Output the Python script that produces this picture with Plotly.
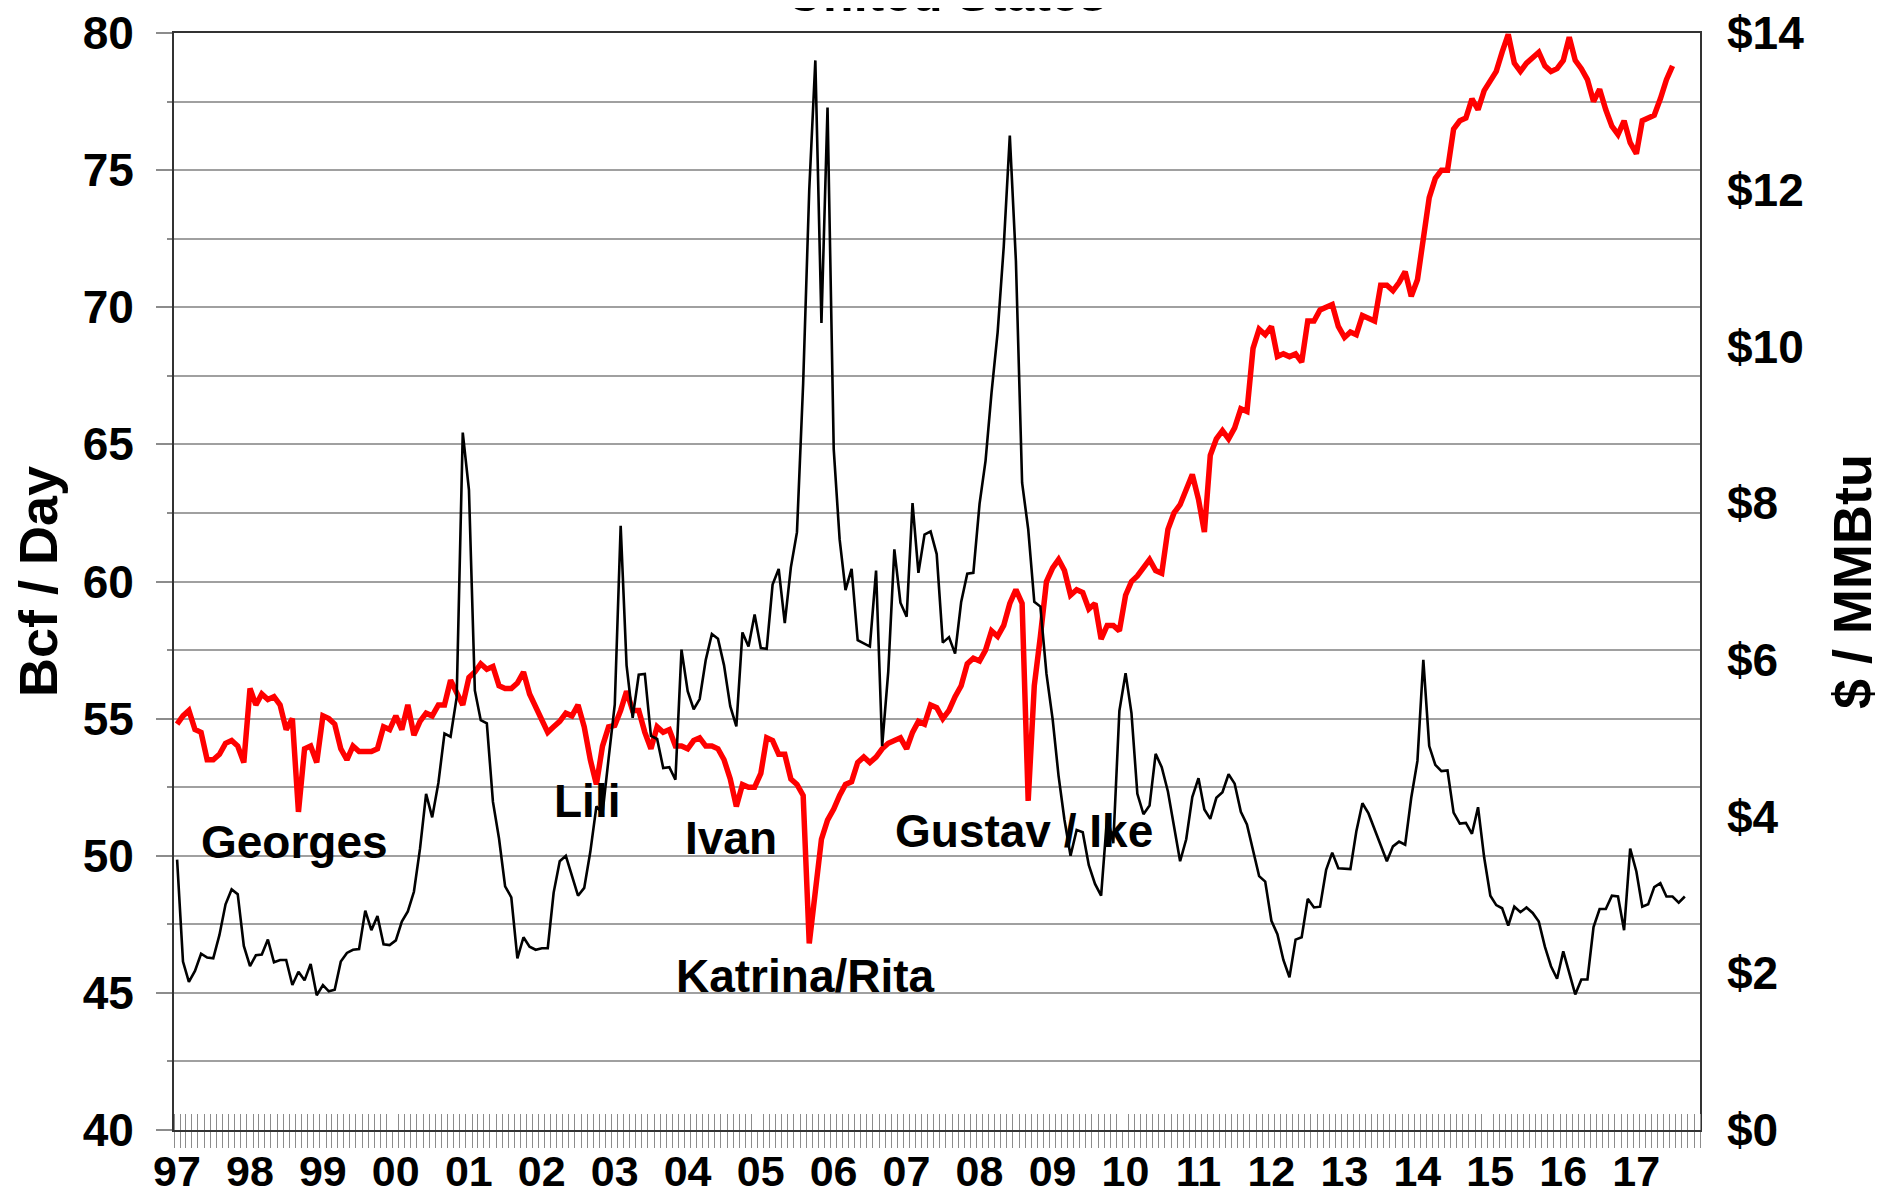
import plotly.graph_objects as go

# ---------------- data ----------------
year_labels = ["97", "98", "99", "00", "01", "02", "03", "04", "05", "06", "07",
               "08", "09", "10", "11", "12", "13", "14", "15", "16", "17"]

# monthly, Jan 1997 .. Jul 2017  (Bcf / Day, left axis)
production = [
    54.8, 55.1, 55.3, 54.6, 54.5, 53.5, 53.5, 53.7, 54.1, 54.2, 54.0, 53.4,   # 1997
    56.1, 55.5, 55.9, 55.7, 55.8, 55.5, 54.6, 55.0, 51.6, 53.9, 54.0, 53.4,   # 1998
    55.1, 55.0, 54.8, 53.9, 53.5, 54.0, 53.8, 53.8, 53.8, 53.9, 54.7, 54.6,   # 1999
    55.1, 54.6, 55.5, 54.4, 54.9, 55.2, 55.1, 55.5, 55.5, 56.4, 56.0, 55.5,   # 2000
    56.5, 56.7, 57.0, 56.8, 56.9, 56.2, 56.1, 56.1, 56.3, 56.7, 55.9, 55.4,   # 2001
    55.0, 54.5, 54.7, 54.9, 55.2, 55.1, 55.5, 54.7, 53.5, 52.6, 54.0, 54.7,   # 2002
    54.75, 55.3, 56.0, 55.3, 55.3, 54.5, 53.9, 54.7, 54.5, 54.6, 54.0, 54.0,  # 2003
    53.9, 54.2, 54.3, 54.0, 54.0, 53.9, 53.5, 52.8, 51.8, 52.6, 52.5, 52.5,   # 2004
    53.0, 54.3, 54.2, 53.7, 53.7, 52.8, 52.6, 52.2, 46.8, 48.8, 50.6, 51.3,   # 2005
    51.7, 52.2, 52.6, 52.7, 53.4, 53.6, 53.4, 53.6, 53.9, 54.1, 54.2, 54.3,   # 2006
    53.9, 54.5, 54.9, 54.8, 55.5, 55.4, 55.0, 55.3, 55.8, 56.2, 57.0, 57.2,   # 2007
    57.1, 57.5, 58.2, 58.0, 58.4, 59.2, 59.7, 59.2, 52.0, 56.2, 58.0, 60.0,   # 2008
    60.5, 60.8, 60.4, 59.5, 59.7, 59.6, 59.0, 59.2, 57.9, 58.4, 58.4, 58.2,   # 2009
    59.5, 60.0, 60.2, 60.5, 60.8, 60.4, 60.3, 61.9, 62.5, 62.8, 63.4, 63.9,   # 2010
    63.0, 61.8, 64.6, 65.2, 65.5, 65.2, 65.6, 66.3, 66.2, 68.5, 69.2, 69.0,   # 2011
    69.3, 68.2, 68.3, 68.2, 68.3, 68.0, 69.5, 69.5, 69.9, 70.0, 70.1, 69.3,   # 2012
    68.9, 69.1, 69.0, 69.7, 69.6, 69.5, 70.8, 70.8, 70.6, 70.9, 71.3, 70.4,   # 2013
    71.0, 72.5, 74.0, 74.7, 75.0, 75.0, 76.5, 76.8, 76.9, 77.6, 77.2, 77.9,   # 2014
    78.3, 78.6, 79.3, 79.95, 78.9, 78.6, 78.9, 79.1, 79.3, 78.8, 78.6, 78.7,  # 2015
    79.0, 79.85, 79.0, 78.7, 78.3, 77.5, 77.95, 77.2, 76.6, 76.3, 76.8, 76.0, # 2016
    75.6, 76.8, 76.9, 77.0, 77.6, 78.3, 78.8,                                 # 2017
]

# monthly, Jan 1997 .. Sep 2017  ($ / MMBtu, right axis)
price = [
    3.45, 2.15, 1.89, 2.03, 2.25, 2.20, 2.19, 2.49, 2.88, 3.07, 3.01, 2.35,   # 1997
    2.09, 2.23, 2.24, 2.43, 2.14, 2.17, 2.17, 1.85, 2.02, 1.91, 2.12, 1.72,   # 1998
    1.85, 1.77, 1.79, 2.15, 2.26, 2.30, 2.31, 2.80, 2.55, 2.73, 2.37, 2.36,   # 1999
    2.42, 2.66, 2.79, 3.04, 3.59, 4.29, 3.99, 4.43, 5.06, 5.02, 5.52, 8.90,   # 2000
    8.17, 5.61, 5.23, 5.19, 4.19, 3.72, 3.11, 2.97, 2.19, 2.46, 2.34, 2.30,   # 2001
    2.32, 2.32, 3.03, 3.43, 3.50, 3.26, 2.99, 3.09, 3.55, 4.13, 4.04, 4.74,   # 2002
    5.43, 7.71, 5.93, 5.26, 5.81, 5.82, 5.03, 4.99, 4.62, 4.63, 4.47, 6.13,   # 2003
    5.60, 5.37, 5.50, 6.00, 6.33, 6.27, 5.93, 5.41, 5.15, 6.35, 6.17, 6.58,   # 2004
    6.15, 6.14, 6.96, 7.16, 6.47, 7.18, 7.63, 9.53, 12.00, 13.65, 10.30, 13.05,  # 2005
    8.69, 7.54, 6.89, 7.16, 6.25, 6.21, 6.17, 7.14, 4.90, 5.85, 7.41, 6.73,   # 2006
    6.55, 8.00, 7.11, 7.60, 7.64, 7.35, 6.22, 6.29, 6.08, 6.74, 7.10, 7.11,   # 2007
    7.99, 8.54, 9.41, 10.18, 11.27, 12.69, 11.09, 8.26, 7.67, 6.74, 6.68, 5.82,  # 2008
    5.24, 4.52, 3.96, 3.50, 3.83, 3.80, 3.38, 3.14, 2.99, 4.01, 3.66, 5.35,   # 2009
    5.83, 5.32, 4.29, 4.03, 4.14, 4.80, 4.63, 4.32, 3.89, 3.43, 3.71, 4.25,   # 2010
    4.49, 4.09, 3.97, 4.24, 4.31, 4.54, 4.42, 4.06, 3.90, 3.57, 3.24, 3.17,   # 2011
    2.67, 2.50, 2.17, 1.95, 2.43, 2.46, 2.95, 2.84, 2.85, 3.32, 3.54, 3.34,   # 2012
    3.33, 3.33, 3.81, 4.17, 4.04, 3.83, 3.62, 3.43, 3.62, 3.68, 3.64, 4.24,   # 2013
    4.71, 6.00, 4.90, 4.66, 4.58, 4.59, 4.05, 3.91, 3.92, 3.78, 4.12, 3.48,   # 2014
    2.99, 2.87, 2.83, 2.61, 2.85, 2.78, 2.84, 2.77, 2.66, 2.34, 2.09, 1.93,   # 2015
    2.28, 1.99, 1.73, 1.92, 1.92, 2.59, 2.82, 2.82, 2.99, 2.98, 2.55, 3.59,   # 2016
    3.30, 2.85, 2.88, 3.10, 3.15, 2.98, 2.98, 2.90, 2.98,                     # 2017
]

# hurricane labels: (text, month, Bcf/Day level)
hurricanes = [
    ("Georges", "1998-08-28", 50.5),
    ("Lili", "2002-08-28", 52.0),
    ("Ivan", "2004-08-18", 50.65),
    ("Katrina/Rita", "2005-08-30", 45.6),
    ("Gustav / Ike", "2008-08-26", 50.9),
]

# month categories (Jan 1997 onward)
months = [f"{1997 + i // 12}-{i % 12 + 1:02d}" for i in range(len(price))]

# ---------------- figure ----------------
FONT = "Liberation Sans, Arial, sans-serif"
GRID = "#a0a0a0"
TICKC = "#8c8c8c"
AXIS = "#333333"

fig = go.Figure()
fig.add_trace(go.Scatter(
    x=months[:len(production)], y=production, mode="lines",
    name="Production (Bcf/Day)",
    xperiod="M1", xperiodalignment="middle",
    line=dict(color="#ff0000", width=5.5), xaxis="x", yaxis="y"))
fig.add_trace(go.Scatter(
    x=months, y=price, mode="lines", name="Price ($/MMBtu)",
    xperiod="M1", xperiodalignment="middle",
    line=dict(color="#000000", width=2.6), xaxis="x2", yaxis="y2"))

annotations = []
for text, xm, yv in hurricanes:
    annotations.append(dict(
        text=text, x=xm, y=yv, xref="x", yref="y", showarrow=False,
        xanchor="center", yanchor="middle",
        font=dict(family=FONT, size=46, color="black", weight="bold")))
annotations.append(dict(
    text="United States", x=0.5066, y=1, xref="paper", yref="paper",
    xanchor="center", yanchor="bottom", yshift=9, showarrow=False,
    font=dict(family=FONT, size=50, color="black", weight="bold")))

x_range = ["1997-01-01", "2017-12-01"]

fig.update_layout(
    width=1894, height=1189, autosize=False,
    margin=dict(l=166, r=202, t=25, b=67, pad=0, autoexpand=False),
    paper_bgcolor="white", plot_bgcolor="white", showlegend=False,
    font=dict(family=FONT, color="black"),
    annotations=annotations,
    xaxis=dict(
        type="date", range=x_range,
        tickmode="linear", tick0="1997-01-16", dtick="M12", tickformat="%y",
        ticks="", tickfont=dict(family=FONT, size=43, color="black", weight="bold"),
        ticklabelstandoff=2, ticklabeloverflow="allow",
        showgrid=False, zeroline=False,
        showline=True, linecolor=AXIS, linewidth=2, mirror=True,
        minor=dict(tickmode="linear", tick0="1997-01-01", dtick="M1", ticks="outside",
                   ticklen=16, tickwidth=1, tickcolor=TICKC, showgrid=False),
    ),
    xaxis2=dict(
        type="date", overlaying="x", matches="x", anchor="y", side="bottom",
        showticklabels=False, ticks="", showgrid=False, zeroline=False, showline=False,
        minor=dict(tickmode="linear", tick0="1997-01-01", dtick="M1", ticks="inside",
                   ticklen=16, tickwidth=1, tickcolor=TICKC, showgrid=False),
    ),
    yaxis=dict(
        range=[40, 80], tickmode="linear", tick0=40, dtick=5,
        ticks="outside", ticklen=16, tickwidth=2, tickcolor=TICKC,
        ticklabelstandoff=13, ticklabeloverflow="allow",
        tickfont=dict(family=FONT, size=46, color="black", weight="bold"),
        showgrid=True, gridcolor=GRID, gridwidth=2, zeroline=False,
        showline=True, linecolor=AXIS, linewidth=2, mirror=True,
        title=dict(text="Bcf / Day", standoff=12,
                   font=dict(family=FONT, size=54, color="black", weight="bold")),
        minor=dict(tickmode="linear", tick0=40, dtick=2.5, ticks="outside",
                   ticklen=5, tickwidth=2, tickcolor=TICKC,
                   showgrid=True, gridcolor=GRID, gridwidth=2),
    ),
    yaxis2=dict(
        overlaying="y", side="right", anchor="x", range=[0, 14],
        tickmode="linear", tick0=0, dtick=2, tickprefix="$",
        ticks="", ticklabelstandoff=26, ticklabeloverflow="allow",
        tickfont=dict(family=FONT, size=46, color="black", weight="bold"),
        showgrid=False, zeroline=False, showline=False,
        title=dict(text="$ / MMBtu", standoff=30,
                   font=dict(family=FONT, size=54, color="black", weight="bold")),
    ),
)

fig.write_html("out.html")
